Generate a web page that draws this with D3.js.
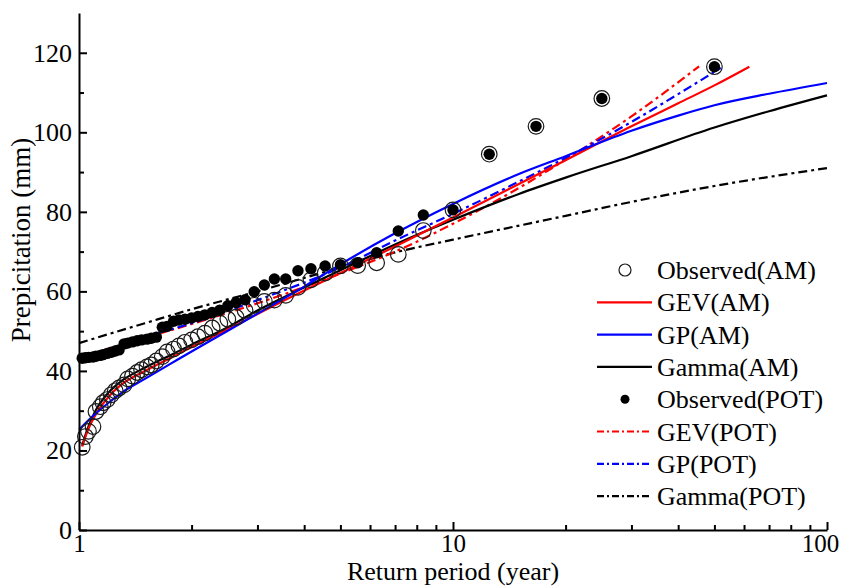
<!DOCTYPE html>
<head>
  <meta charset="utf-8">
  <title>Return period vs precipitation</title>
  <style>
    body { margin: 0; background: #fff; }
    svg { font-family: "Liberation Serif", "Times New Roman", serif; }
  </style>
  <script src="https://cdn.jsdelivr.net/npm/d3@7/dist/d3.min.js"></script>
</head>
<body>
<script>
  // observed points, plotting position T = (n+1)/m, n = 49
  var obsT = [50, 25, 16.67, 12.5, 10, 8.33, 7.14, 6.25, 5.56, 5, 4.55, 4.17, 3.85, 3.57, 3.33, 3.13, 2.94,
              2.78, 2.63, 2.5, 2.38, 2.27, 2.17, 2.08, 2, 1.92, 1.85, 1.79, 1.72, 1.67, 1.61, 1.56, 1.52,
              1.47, 1.43, 1.39, 1.35, 1.32, 1.28, 1.25, 1.22, 1.19, 1.16, 1.14, 1.11, 1.09, 1.06, 1.04, 1.02];
  var obsAM = [116.5, 108.5, 101.5, 94.5, 80.5, 75.3, 69.3, 67.2, 66.5, 66.4, 64.6, 62.9, 61.0, 59.0, 57.8, 57.5, 56.5,
               55.2, 53.5, 53.0, 52.0, 50.8, 49.5, 48.6, 47.8, 47.2, 46.3, 45.5, 44.8, 43.6, 42.5, 41.5, 41.0,
               40.3, 39.6, 38.7, 38.0, 36.5, 35.7, 35.0, 34.0, 32.8, 32.0, 31.0, 29.8, 26.0, 24.8, 23.5, 20.8];
  var obsPOT = [116.5, 108.5, 101.5, 94.5, 80.5, 79.2, 75.2, 69.7, 67.2, 66.7, 66.4, 65.7, 65.2, 63.1, 63.1, 61.6, 59.9,
                57.9, 57.2, 56.4, 55.3, 54.7, 54.1, 53.7, 53.3, 53.0, 52.8, 52.5, 51.2, 51.0, 48.5, 48.2, 48.0,
                47.8, 47.6, 47.3, 47.0, 46.8, 45.3, 45.0, 44.7, 44.4, 44.1, 43.9, 43.7, 43.5, 43.4, 43.3, 43.2];

  // fitted curves
  var gevAmT = [1.02, 1.05, 1.1, 1.2, 1.3, 1.5, 1.75, 2, 2.5, 3, 4, 5, 7, 10, 15, 20, 30, 40, 50, 62];
  var gevAmV = [21, 24.5, 28.5, 33.5, 36.6, 40, 43.2, 46, 50.5, 54.3, 60.2, 64.6, 71.3, 78.6, 87, 93, 101.5, 107.3, 111.8, 116.5];
  var gpAmT = [1, 1.1, 1.2, 1.3, 1.5, 1.75, 2, 2.5, 3, 4, 5, 7, 10, 15, 20, 30, 40, 50, 70, 100];
  var gpAmV = [25.2, 29, 32, 34.5, 38, 41.7, 44.9, 50.1, 54.4, 61.2, 66.8, 74.6, 82, 89.5, 94, 100.4, 104.2, 106.8, 109.7, 112.4];
  var gammaAmT = [1.02, 1.05, 1.1, 1.2, 1.3, 1.5, 1.75, 2, 2.5, 3, 4, 5, 7, 10, 15, 20, 30, 50, 70, 100];
  var gammaAmV = [21.2, 25, 29.5, 34.6, 37.5, 40.8, 43.9, 46.6, 51, 55.2, 61, 65.3, 71.8, 78, 84.5, 88.6, 94, 101.2, 105.3, 109.3];
  var gevPotT = [1.02, 1.2, 1.5, 2, 3, 5, 7, 10, 15, 22, 30, 45.5];
  var gevPotV = [43.5, 45.6, 48.3, 51.8, 57, 64.5, 70, 77, 86, 95.6, 104, 116.6];
  var gpPotT = [1.02, 1.2, 1.5, 2, 3, 5, 7, 10, 15, 22, 30, 40, 52];
  var gpPotV = [43.3, 45.5, 48.5, 52, 57.8, 66, 72.8, 79.5, 87.6, 95.6, 102.6, 109.6, 116.2];
  var gammaPotT = [1, 1.5, 2, 3, 5, 7, 10, 20, 30, 50, 100];
  var gammaPotV = [47, 52, 55.5, 60, 66, 69.8, 73, 79, 82.5, 86.5, 91];

  var xMajor = [1, 10, 100];
  var xMinor = [2, 3, 4, 5, 6, 7, 8, 9, 20, 30, 40, 50, 60, 70, 80, 90];
  var yMajor = [0, 20, 40, 60, 80, 100, 120];
  var yMinor = [10, 30, 50, 70, 90, 110];

  var legendNames = ["Observed(AM)", "GEV(AM)", "GP(AM)", "Gamma(AM)",
                     "Observed(POT)", "GEV(POT)", "GP(POT)", "Gamma(POT)"];

  var width = 846, height = 586;
  var plotLeft = 79, plotRight = 827, plotTop = 13, plotBottom = 530;
  var dashDot = "9,4,3,4";

  var svg = d3.select("body").append("svg")
      .attr("width", width)
      .attr("height", height);

  var x = d3.scaleLog().domain([1, 100]).range([plotLeft, plotRight]);
  var y = d3.scaleLinear().domain([0, 130]).range([plotBottom, plotTop]);

  // curves
  var line = d3.line()
      .x(d => x(d[0]))
      .y(d => y(d[1]))
      .curve(d3.curveMonotoneX);

  var curves = [
    {t: gammaPotT, v: gammaPotV, color: "#000", dash: dashDot},
    {t: gevPotT, v: gevPotV, color: "#ff0000", dash: dashDot},
    {t: gpPotT, v: gpPotV, color: "#0000ff", dash: dashDot},
    {t: gammaAmT, v: gammaAmV, color: "#000", dash: null},
    {t: gevAmT, v: gevAmV, color: "#ff0000", dash: null},
    {t: gpAmT, v: gpAmV, color: "#0000ff", dash: null}
  ];

  svg.append("g").selectAll("path")
    .data(curves)
    .enter()
    .append("path")
      .attr("d", c => line(c.t.map((t, i) => [t, c.v[i]])))
      .attr("fill", "none")
      .attr("stroke", c => c.color)
      .attr("stroke-width", 2.2)
      .attr("stroke-dasharray", c => c.dash);

  // observed AM (open circles)
  svg.append("g").selectAll("circle")
    .data(obsT)
    .enter()
    .append("circle")
      .attr("cx", d => x(d))
      .attr("cy", (d, i) => y(obsAM[i]))
      .attr("r", 7.8)
      .attr("fill", "none")
      .attr("stroke", "#1a1a1a")
      .attr("stroke-width", 1.2);

  // observed POT (filled dots)
  svg.append("g").selectAll("circle")
    .data(obsT)
    .enter()
    .append("circle")
      .attr("cx", d => x(d))
      .attr("cy", (d, i) => y(obsPOT[i]))
      .attr("r", 5.7)
      .attr("fill", "#000");

  // axes, ticks pointing inward
  var xAxisG = svg.append("g")
      .attr("transform", "translate(0," + plotBottom + ")")
      .call(d3.axisBottom(x).tickValues(xMajor).tickFormat(d3.format("d"))
            .tickSizeInner(-8).tickSizeOuter(0).tickPadding(4));
  svg.append("g")
      .attr("transform", "translate(0," + plotBottom + ")")
      .call(d3.axisBottom(x).tickValues(xMinor).tickFormat("")
            .tickSizeInner(-5).tickSizeOuter(0))
      .select(".domain").remove();

  var yAxisG = svg.append("g")
      .attr("transform", "translate(" + plotLeft + ",0)")
      .call(d3.axisLeft(y).tickValues(yMajor)
            .tickSizeInner(-8).tickSizeOuter(0).tickPadding(7));
  svg.append("g")
      .attr("transform", "translate(" + plotLeft + ",0)")
      .call(d3.axisLeft(y).tickValues(yMinor).tickFormat("")
            .tickSizeInner(-5).tickSizeOuter(0))
      .select(".domain").remove();

  svg.selectAll(".domain").attr("stroke-width", 2);
  svg.selectAll(".tick line").attr("stroke-width", 2);
  svg.selectAll(".tick text")
      .attr("font-family", "Liberation Serif")
      .attr("fill", "#000");
  yAxisG.selectAll(".tick text").attr("font-size", "26px");
  xAxisG.selectAll(".tick text").attr("font-size", "25px");
  // keep "100" inside the page
  xAxisG.selectAll(".tick text").filter(d => d === 100).attr("dx", "-7");

  svg.append("text")
      .attr("x", (plotLeft + plotRight) / 2)
      .attr("y", 580)
      .attr("text-anchor", "middle")
      .attr("font-size", "26px")
      .text("Return period (year)");

  svg.append("text")
      .attr("transform", "translate(30,240) rotate(-90)")
      .attr("text-anchor", "middle")
      .attr("font-size", "27px")
      .text("Prepicitation (mm)");

  // legend
  var legend = svg.append("g").attr("transform", "translate(597,270)");
  var rows = legend.selectAll("g")
    .data(legendNames)
    .enter()
    .append("g")
      .attr("transform", (d, i) => "translate(0," + i * 32.3 + ")");

  var legendStyle = [
    {kind: "circle"},
    {kind: "line", color: "#ff0000", dash: null},
    {kind: "line", color: "#0000ff", dash: null},
    {kind: "line", color: "#000", dash: null},
    {kind: "dot"},
    {kind: "line", color: "#ff0000", dash: "7,3,2,3"},
    {kind: "line", color: "#0000ff", dash: "7,3,2,3"},
    {kind: "line", color: "#000", dash: "7,3,2,3"}
  ];

  rows.each(function(d, i) {
    var g = d3.select(this);
    var s = legendStyle[i];
    if (s.kind === "line") {
      g.append("line")
        .attr("x1", 0).attr("x2", 55)
        .attr("y1", 0).attr("y2", 0)
        .attr("stroke", s.color)
        .attr("stroke-width", 2.2)
        .attr("stroke-dasharray", s.dash);
    } else if (s.kind === "circle") {
      g.append("circle").attr("cx", 28).attr("cy", 0).attr("r", 6)
        .attr("fill", "none").attr("stroke", "#1a1a1a").attr("stroke-width", 1.2);
    } else {
      g.append("circle").attr("cx", 28).attr("cy", 0).attr("r", 4.5)
        .attr("fill", "#000");
    }
    g.append("text")
      .attr("x", 60)
      .attr("dy", "0.35em")
      .attr("font-size", "26px")
      .text(d);
  });
</script>
</body>
